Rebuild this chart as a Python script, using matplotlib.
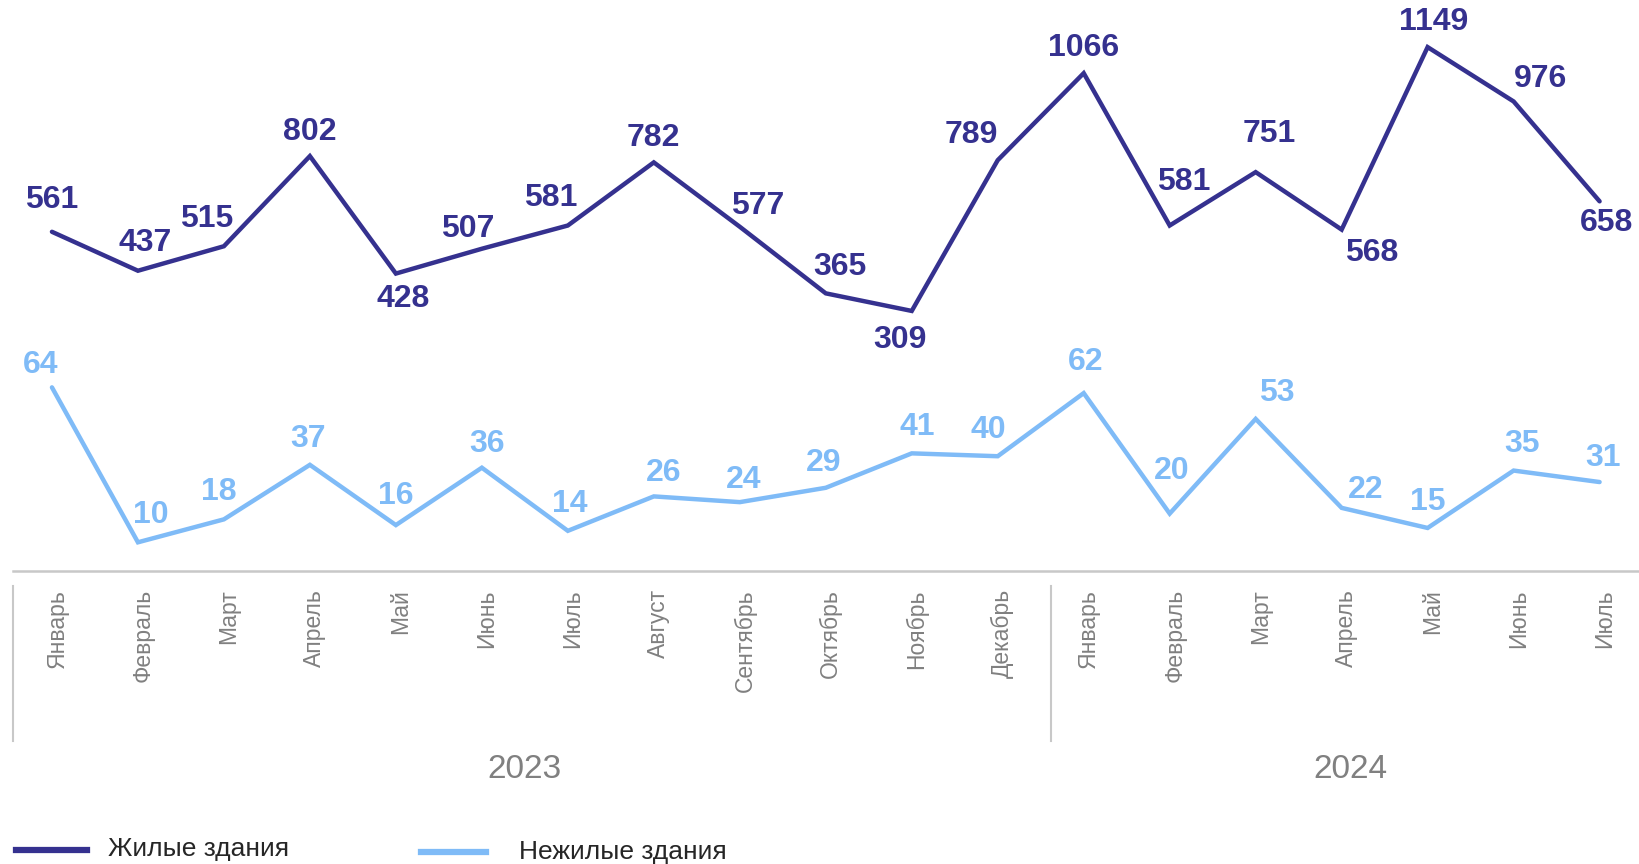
import matplotlib
matplotlib.use("Agg")
import matplotlib.pyplot as plt
import matplotlib.transforms as mtransforms
from matplotlib.lines import Line2D

plt.rcParams['font.family'] = ['Liberation Sans', 'DejaVu Sans']

# данные
months = ["Январь", "Февраль", "Март", "Апрель", "Май", "Июнь", "Июль", "Август",
          "Сентябрь", "Октябрь", "Ноябрь", "Декабрь",
          "Январь", "Февраль", "Март", "Апрель", "Май", "Июнь", "Июль"]
years = ["2023", "2024"]
residential = [561, 437, 515, 802, 428, 507, 581, 782, 577, 365, 309, 789,
               1066, 581, 751, 568, 1149, 976, 658]
non_residential = [64, 10, 18, 37, 16, 36, 14, 26, 24, 29, 41, 40,
                   62, 20, 53, 22, 15, 35, 31]
series_names = ["Жилые здания", "Нежилые здания"]

DARK = "#35318F"
LIGHT = "#7FBBF7"
GRAY = "#808080"

# смещения подписей (пиксели)
res_off = [(0, 32), (7, 28), (-17, 27), (0, 24), (7, -25), (-14, 20), (-17, 28), (0, 24),
           (18, 21), (14, 26), (-12, -29), (-26, 25), (0, 25), (14, 44), (14, 38),
           (30, -23), (6, 25), (27, 22), (7, -22)]
non_off = [(-11, 22), (13, 27), (-5, 27), (-2, 26), (0, 29), (5, 24), (2, 27), (10, 23),
           (4, 22), (-2, 25), (6, 26), (-9, 26), (2, 31), (2, 43), (21, 26),
           (24, 18), (0, 26), (8, 27), (3, 24)]

fig = plt.figure(figsize=(16.4, 8.64), dpi=100)
ax = fig.add_axes([13 / 1640, 293 / 864, 1 - 13 / 1640, 571 / 864])
ax2 = ax.twinx()

x = list(range(len(months)))
ax.plot(x, residential, color=DARK, lw=3.2, solid_capstyle='round', solid_joinstyle='miter')
ax2.plot(x, non_residential, color=LIGHT, lw=3.2, solid_capstyle='round', solid_joinstyle='miter')

x0, x1 = -0.453, 18.47
ax.set_ylim(-519, 1299)
ax2.set_ylim(0, 199)
ax.set_xlim(x0, x1)

for i, v in enumerate(residential):
    dx, dy = res_off[i]
    ax.annotate(str(v), (i, v), xytext=(dx, dy), textcoords='offset pixels',
                ha='center', va='center', fontsize=23, fontweight='bold', color=DARK)
for i, v in enumerate(non_residential):
    dx, dy = non_off[i]
    ax2.annotate(str(v), (i, v), xytext=(dx, dy), textcoords='offset pixels',
                 ha='center', va='center', fontsize=23, fontweight='bold', color=LIGHT)

for a in (ax, ax2):
    for s in ['top', 'right', 'left']:
        a.spines[s].set_visible(False)
    a.set_yticks([])
ax2.spines['bottom'].set_visible(False)
ax.spines['bottom'].set_color("#C8C8C8")
ax.spines['bottom'].set_linewidth(1.8)

ax.set_xticks(x)
ax.set_xticklabels(months, rotation=90, fontsize=16.5, color=GRAY)
ax.tick_params(axis='x', length=0, pad=13)
shift = mtransforms.ScaledTranslation(5 / 100, 0, fig.dpi_scale_trans)
for lbl in ax.get_xticklabels():
    lbl.set_transform(lbl.get_transform() + shift)

# разделители лет и подписи
trans = mtransforms.blended_transform_factory(ax.transData, fig.transFigure)
for xs in (x0, 11.62):
    ax.plot([xs, xs], [1 - 586 / 864, 1 - 741 / 864], color="#C8C8C8", lw=1.5,
            transform=trans, clip_on=False)
ax.text(5.5, 1 - 769 / 864, years[0], transform=trans, ha='center', va='center',
        fontsize=24, color=GRAY)
ax.text(15.1, 1 - 769 / 864, years[1], transform=trans, ha='center', va='center',
        fontsize=24, color=GRAY)

# легенда
fig.add_artist(Line2D([16 / 1640, 87 / 1640], [1 - 850 / 864] * 2, color=DARK, lw=4.5))
fig.text(108 / 1640, 1 - 849 / 864, series_names[0], ha='left', va='center',
         fontsize=19, color="#262626")
fig.add_artist(Line2D([421 / 1640, 486 / 1640], [1 - 852 / 864] * 2, color=LIGHT, lw=4.5))
fig.text(519 / 1640, 1 - 852 / 864, series_names[1], ha='left', va='center',
         fontsize=19, color="#262626")

fig.savefig("out.png", dpi=100)
